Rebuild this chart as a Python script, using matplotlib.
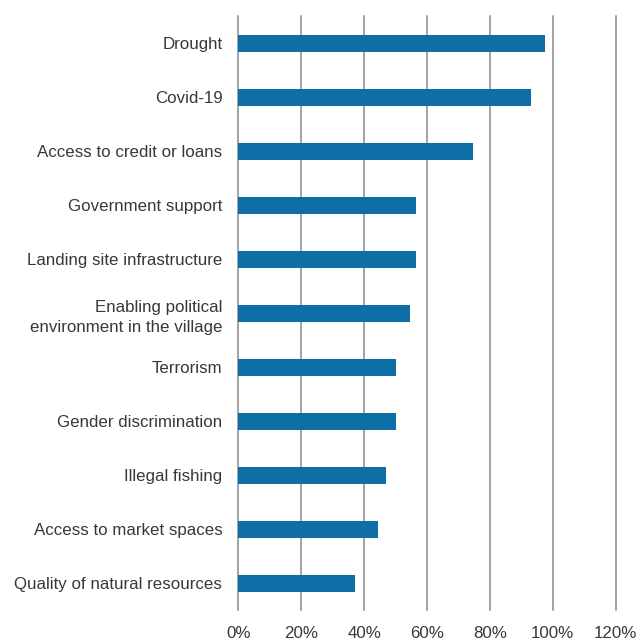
import numpy as np
import matplotlib.pyplot as plt
from matplotlib.ticker import FuncFormatter

plt.rcParams['font.family'] = ['Liberation Sans', 'DejaVu Sans']

# share of respondents naming each factor (%)
factors = ["Drought", "Covid-19", "Access to credit or loans",
           "Government support", "Landing site infrastructure",
           "Enabling political\nenvironment in the village", "Terrorism",
           "Gender discrimination", "Illegal fishing",
           "Access to market spaces", "Quality of natural resources"]
shares = [97.5, 93, 74.5, 56.5, 56.5, 54.5, 50, 50, 47, 44.5, 37]
xticks = [0, 20, 40, 60, 80, 100, 120]

bar_col = '#0d6fa6'
txt_col = '#383838'

fig = plt.figure(figsize=(6.4, 6.41), dpi=100)
ax = fig.add_axes([0.3723, 0.0476, 0.962 - 0.3723, 0.9746 - 0.0476])

y = np.arange(len(factors))
ax.barh(y, shares, height=0.31, color=bar_col, zorder=3)
ax.set_ylim(len(factors) - 0.5, -0.5)
ax.set_xlim(0, 120)

ax.set_yticks(y)
ax.set_yticklabels(factors, fontsize=12.2, color=txt_col, linespacing=1.45)
ax.set_xticks(xticks)
ax.xaxis.set_major_formatter(FuncFormatter(lambda v, p: '%d%%' % v))
ax.tick_params(axis='x', length=0, pad=11, labelsize=12.2, labelcolor=txt_col)
ax.tick_params(axis='y', length=0, pad=11.5)
for lab in ax.get_yticklabels():
    lab.set_y(lab.get_position()[1])

for s in ax.spines.values():
    s.set_visible(False)
ax.grid(axis='x', color='#8a8a8a', linewidth=1.1, zorder=0)
ax.set_axisbelow(True)
for gl in ax.get_xgridlines():
    gl.set_clip_on(False)

fig.savefig('out.png', dpi=100)
